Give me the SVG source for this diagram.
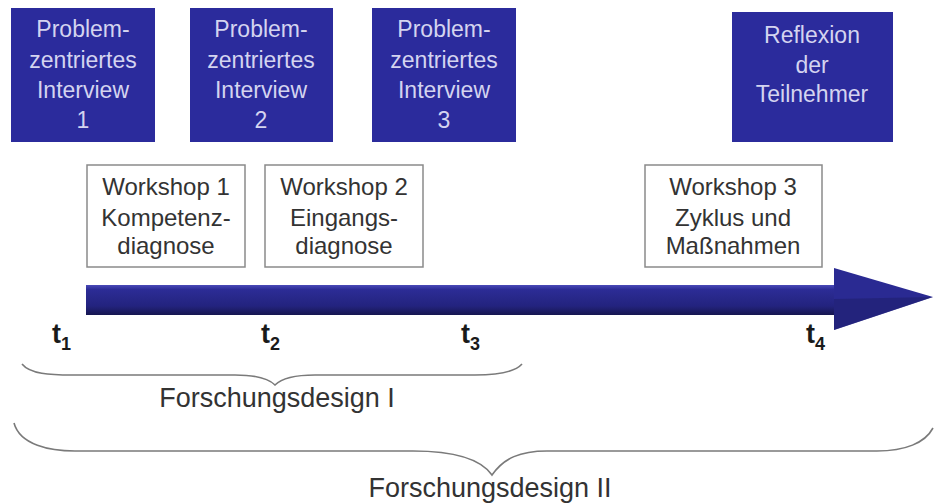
<svg xmlns="http://www.w3.org/2000/svg" width="934" height="504" viewBox="0 0 934 504">
<style>
.bb{fill:#2b2b9c;}
.bt{font-family:"Liberation Sans",Arial,sans-serif;font-size:23px;fill:#d4d4f0;text-anchor:middle;}
.wb{fill:#ffffff;stroke:#8a8a8a;stroke-width:1.5;}
.wt{font-family:"Liberation Sans",Arial,sans-serif;font-size:24px;fill:#333333;text-anchor:middle;}
.tl{font-family:"Liberation Sans",Arial,sans-serif;font-size:27px;font-weight:bold;fill:#1a1a1a;}
.ts{font-size:18px;}
.br{fill:none;stroke:#7a7a7a;stroke-width:1.6;}
.ft{font-family:"Liberation Sans",Arial,sans-serif;font-size:27px;fill:#333333;text-anchor:middle;}
</style>
<defs>
<linearGradient id="shaft" x1="0" y1="0" x2="0" y2="1">
<stop offset="0" stop-color="#4a4ab8"/>
<stop offset="0.15" stop-color="#2c2c96"/>
<stop offset="0.7" stop-color="#23237e"/>
<stop offset="1" stop-color="#161650"/>
</linearGradient>
</defs>
<rect width="934" height="504" fill="#ffffff"/>
<g id="interview1"><rect class="bb" x="11" y="8" width="144" height="134"/><text class="bt"><tspan x="83" y="37">Problem-</tspan><tspan x="83" y="68">zentriertes</tspan><tspan x="83" y="98">Interview</tspan><tspan x="83" y="128">1</tspan></text></g>
<g id="interview2"><rect class="bb" x="190" y="8" width="143" height="134"/><text class="bt"><tspan x="261" y="37">Problem-</tspan><tspan x="261" y="68">zentriertes</tspan><tspan x="261" y="98">Interview</tspan><tspan x="261" y="128">2</tspan></text></g>
<g id="interview3"><rect class="bb" x="372" y="8" width="144" height="134"/><text class="bt"><tspan x="444" y="37">Problem-</tspan><tspan x="444" y="68">zentriertes</tspan><tspan x="444" y="98">Interview</tspan><tspan x="444" y="128">3</tspan></text></g>
<g id="reflexion"><rect class="bb" x="732" y="12" width="161" height="130"/><text class="bt"><tspan x="812" y="43">Reflexion</tspan><tspan x="812" y="73">der</tspan><tspan x="812" y="102">Teilnehmer</tspan></text></g>
<g id="workshop1"><rect class="wb" x="87" y="165" width="158" height="102"/><text class="wt"><tspan x="166" y="195">Workshop 1</tspan><tspan x="166" y="226">Kompetenz-</tspan><tspan x="166" y="254">diagnose</tspan></text></g>
<g id="workshop2"><rect class="wb" x="265" y="165" width="158" height="102"/><text class="wt"><tspan x="344" y="195">Workshop 2</tspan><tspan x="344" y="226">Eingangs-</tspan><tspan x="344" y="254">diagnose</tspan></text></g>
<g id="workshop3"><rect class="wb" x="645" y="165" width="177" height="102"/><text class="wt"><tspan x="733" y="195">Workshop 3</tspan><tspan x="733" y="226">Zyklus und</tspan><tspan x="733" y="254">Maßnahmen</tspan></text></g>
<g id="connectors">
<rect x="86" y="285" width="750" height="30" fill="url(#shaft)"/>
<polygon points="834,268 933,297 834,330" fill="#2a2a92"/>
<polygon points="834,299 933,297 834,330" fill="#1f1f6e" opacity="0.6"/>
<path class="br" d="M22,364 C30,374 50,375 72,375 L235,375 C255,375 268,378 275,385 C282,378 295,375 315,375 L475,375 C500,375 515,372 522,364"/>
<path class="br" d="M14,423 C20,445 50,451 75,451 L413,451 C450,451 480,458 492,475 C504,458 520,451 547,451 L877,451 C905,451 925,443 933,428"/>
</g>
<g id="labels">
<text class="tl" x="52" y="343">t<tspan class="ts" dy="7">1</tspan></text>
<text class="tl" x="261" y="343">t<tspan class="ts" dy="7">2</tspan></text>
<text class="tl" x="461" y="343">t<tspan class="ts" dy="7">3</tspan></text>
<text class="tl" x="806" y="343">t<tspan class="ts" dy="7">4</tspan></text>
<text class="ft" x="277" y="407">Forschungsdesign I</text>
<text class="ft" x="490" y="497">Forschungsdesign II</text>
</g>
</svg>
